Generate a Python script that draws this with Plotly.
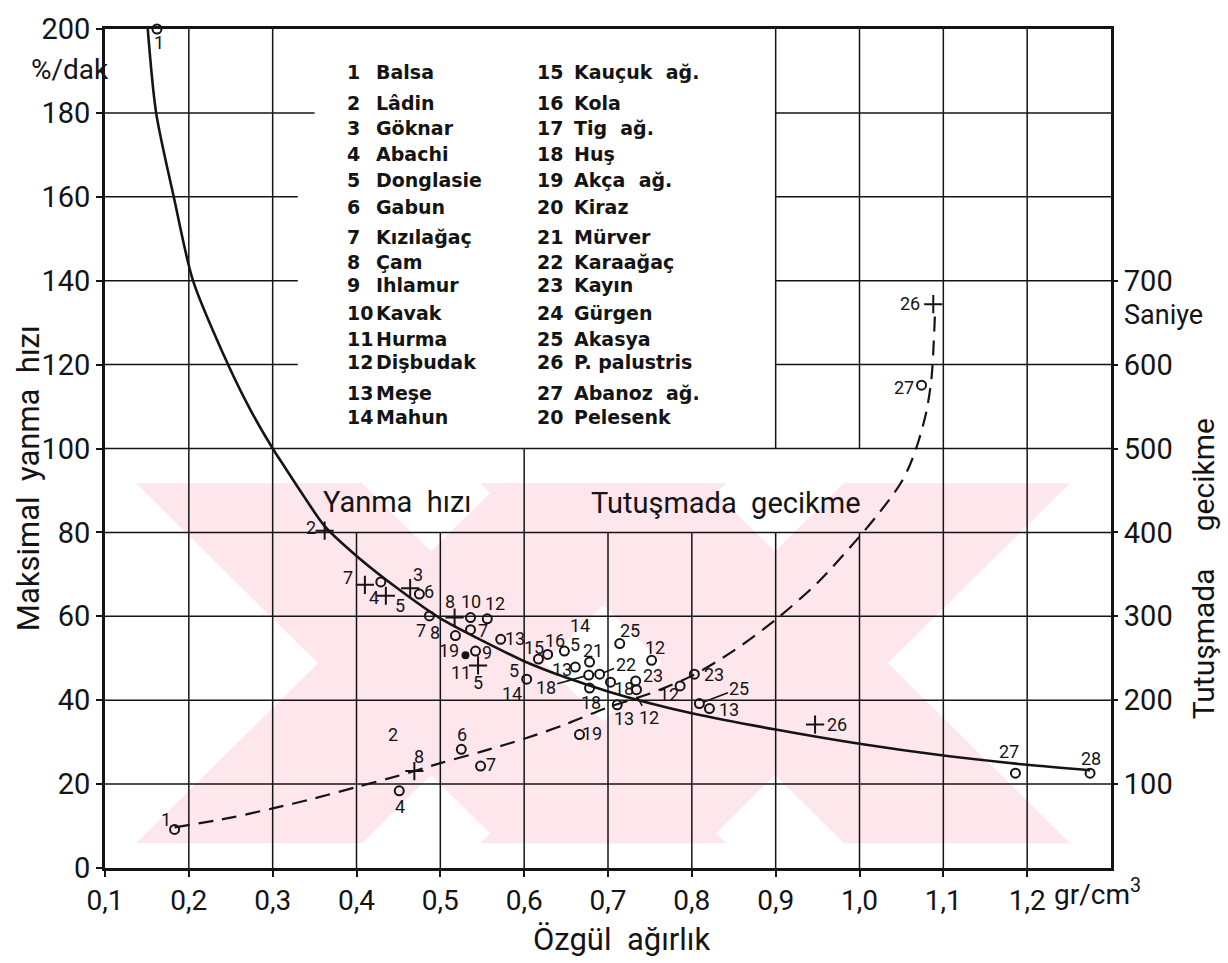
import plotly.graph_objects as go

# ---------------- data ----------------
# Maksimal yanma hızı eğrisi (%/dak) - özgül ağırlığa göre
burn_curve_x = [0.151, 0.161, 0.182, 0.205, 0.240, 0.270, 0.300, 0.313, 0.336, 0.362,
                0.40, 0.45, 0.50, 0.55, 0.60, 0.65, 0.70, 0.75, 0.80, 0.90, 1.00,
                1.10, 1.20, 1.275]
burn_curve_y = [200, 180, 160, 140, 123, 110.5, 100, 96.0, 89.0, 81.5,
                74.4, 66.5, 59.5, 54.2, 49.3, 45.4, 42.1, 39.3, 36.9, 33.0, 29.6,
                26.8, 24.6, 23.3]

# Tutuşmada gecikme eğrisi (saniye)
delay_curve_x = [0.183, 0.25, 0.30, 0.35, 0.40, 0.45, 0.50, 0.55, 0.60, 0.65, 0.70,
                 0.75, 0.80, 0.85, 0.90, 0.95, 1.00, 1.02, 1.04, 1.05, 1.06, 1.07,
                 1.08, 1.086, 1.09]
delay_curve_s = [48.5, 60, 71, 83, 96.5, 110, 125, 139, 154, 171.5, 191.5,
                 208, 229, 259, 296, 340, 395, 419, 445, 460, 480, 507.5,
                 545, 585, 660]

# Ölçülen yanma hızları: o = daire, + = artı, . = dolu nokta
burn_x = [0.162, 0.362, 0.410, 0.429, 0.435, 0.464, 0.475, 0.487, 0.517, 0.536,
          0.556, 0.536, 0.518, 0.530, 0.542, 0.545, 0.572, 0.603, 0.617, 0.628,
          0.648, 0.661, 0.678, 0.677, 0.690, 0.714, 0.752, 0.678, 0.703, 0.733,
          0.734, 0.809, 0.821, 0.947, 1.186, 1.275]
burn_y = [200, 80.4, 67.5, 68.2, 64.9, 66.7, 65.3, 60.1, 59.7, 59.7,
          59.4, 56.8, 55.4, 50.7, 51.7, 48.3, 54.5, 45.0, 49.8, 50.9,
          51.7, 47.9, 49.1, 46.0, 46.2, 53.5, 49.5, 42.9, 44.3, 44.6,
          42.5, 39.2, 38.0, 34.2, 22.6, 22.6]
burn_kind = ["o", "+", "+", "o", "+", "+", "o", "o", "+", "o",
             "o", "o", "o", ".", "o", "+", "o", "o", "o", "o",
             "o", "o", "o", "o", "o", "o", "o", "o", "o", "o",
             "o", "o", "o", "+", "o", "o"]
burn_label = ["1", "2", "7", "4", "5", "3", "6", "7", "8", "10",
              "12", "7", "8", "19", "9", "11", "13", "5", "15", "16",
              "14", "13", "21", "", "", "25", "12", "18", "18", "23",
              "", "", "13", "26", "27", "28"]

# Ölçülen tutuşma gecikmeleri (saniye)
delay_x = [0.183, 0.451, 0.469, 0.525, 0.548, 0.666, 0.711, 0.786, 0.803, 1.074, 1.088]
delay_s = [46, 92, 115.5, 141.5, 121.5, 159, 194.5, 217, 231, 575.5, 672]
delay_kind = ["o", "o", "+", "o", "o", "o", "o", "o", "o", "o", "+"]
delay_label = ["1", "4", "8", "6", "7", "19", "13", "12", "23", "27", "26"]

# Ağaç türleri listesi
species_left = [("1", "Balsa"), ("2", "Lâdin"), ("3", "Göknar"), ("4", "Abachi"),
                ("5", "Donglasie"), ("6", "Gabun"), ("7", "Kızılağaç"), ("8", "Çam"),
                ("9", "Ihlamur"), ("10", "Kavak"), ("11", "Hurma"), ("12", "Dişbudak"),
                ("13", "Meşe"), ("14", "Mahun")]
species_right = [("15", "Kauçuk  ağ."), ("16", "Kola"), ("17", "Tig  ağ."), ("18", "Huş"),
                 ("19", "Akça  ağ."), ("20", "Kiraz"), ("21", "Mürver"), ("22", "Karaağaç"),
                 ("23", "Kayın"), ("24", "Gürgen"), ("25", "Akasya"), ("26", "P. palustris"),
                 ("27", "Abanoz  ağ."), ("20", "Pelesenk")]

x_ticks = [0.1, 0.2, 0.3, 0.4, 0.5, 0.6, 0.7, 0.8, 0.9, 1.0, 1.1, 1.2]
x_tick_text = ["0,1", "0,2", "0,3", "0,4", "0,5", "0,6", "0,7", "0,8", "0,9", "1,0", "1,1", "1,2"]
y_ticks = list(range(0, 201, 20))
y2_ticks = [100, 200, 300, 400, 500, 600, 700]

# ---------------- layout helpers ----------------
W, H = 1228, 963
L, R, T, B = 105, 117, 20, 95
PW, PH = W - L - R, H - T - B
SANS = "Roboto, Lato, sans-serif"
BOLD = "DejaVu Sans, Verdana, sans-serif"
INK = "#141414"
PINK = "#fde7ed"


def paper(px, py):
    return (px - L) / PW, (H - B - py) / PH


# label offsets in pixels (dx right, dy down) for each point
burn_off = [(2, 13), (-14, -3), (-17, -7), (-7, 16), (14, 10), (8, -14), (10, -3), (-8, 15),
            (-5, -16), (0, -16), (8, -15), (12, 1), (-20, -3), (-16, -5), (11, 1), (-17, 7),
            (14, -1), (-13, -9), (-4, -12), (7, -14), (16, -26), (-13, 2), (3, -12), (0, 0),
            (0, 0), (10, -13), (3, -13), (1, 14), (13, 6), (17, -5), (0, 0), (0, 0),
            (20, 1), (22, 0), (-6, -22), (1, -15)]
delay_off = [(-9, -10), (1, 16), (5, -15), (1, -15), (10, -2), (12, -1), (7, 14), (-11, 9),
             (20, 0), (-18, 2), (-23, -1)]

fig = go.Figure()
shapes = []


# ---- watermark: two large pale "X" figures under the grid ----
def band(pts):
    p = [paper(*q) for q in pts]
    d = "M " + " L ".join(f"{a:.4f},{b:.4f}" for a, b in p) + " Z"
    shapes.append(dict(type="path", path=d, xref="paper", yref="paper",
                       fillcolor=PINK, line=dict(width=0), layer="below"))


WT, WB, HALF, HW = 479, 843, 182, 113
for c in (431, 775):
    band([(c - HALF - HW, WT), (c - HALF + HW, WT), (c + HALF + HW, WB), (c + HALF - HW, WB)])
    band([(c + HALF - HW, WT), (c + HALF + HW, WT), (c - HALF + HW, WB), (c - HALF - HW, WB)])

# ---- grid (some segments left open around the lettering) ----
GRID = dict(color=INK, width=1.5)
vsegs = {0.2: [(0, 200)], 0.3: [(0, 200)], 0.4: [(0, 80)], 0.5: [(0, 80)],
         0.6: [(0, 100)], 0.7: [(0, 80)], 0.8: [(0, 80)], 0.9: [(0, 80), (100, 200)],
         1.0: [(0, 80), (100, 200)], 1.1: [(0, 200)], 1.2: [(0, 200)]}
for xv, segs in vsegs.items():
    for a, b in segs:
        shapes.append(dict(type="line", xref="x", yref="y", x0=xv, x1=xv, y0=a, y1=b,
                           line=GRID, layer="below"))
hsegs = {20: [(0.1, 1.3)], 40: [(0.1, 1.3)], 60: [(0.1, 1.3)], 80: [(0.1, 1.3)],
         100: [(0.1, 1.3)], 120: [(0.1, 0.33), (0.9, 1.3)], 140: [(0.1, 0.33), (0.9, 1.3)],
         160: [(0.1, 0.33), (0.9, 1.3)], 180: [(0.1, 0.35), (0.9, 1.3)]}
for yv, segs in hsegs.items():
    for a, b in segs:
        shapes.append(dict(type="line", xref="x", yref="y", x0=a, x1=b, y0=yv, y1=yv,
                           line=GRID, layer="below"))

# ---- curves ----
fig.add_trace(go.Scatter(x=burn_curve_x, y=burn_curve_y, mode="lines",
                         line=dict(color=INK, width=2.6, shape="spline", smoothing=0.8),
                         cliponaxis=False, hoverinfo="skip", showlegend=False))
fig.add_trace(go.Scatter(x=delay_curve_x, y=delay_curve_s, mode="lines", yaxis="y2",
                         line=dict(color=INK, width=2.2, dash="15px,9px",
                                   shape="spline", smoothing=0.8),
                         hoverinfo="skip", showlegend=False))

SYM = {"o": ("circle-open", 9), "+": ("cross-thin-open", 13), ".": ("circle", 6)}


def add_points(xs, ys, kinds, axis):
    for k in ("o", "+", "."):
        idx = [i for i, kk in enumerate(kinds) if kk == k]
        if not idx:
            continue
        sym, size = SYM[k]
        fig.add_trace(go.Scatter(
            x=[xs[i] for i in idx], y=[ys[i] for i in idx], mode="markers", yaxis=axis,
            marker=dict(symbol=sym, size=size, color=INK, line=dict(color=INK, width=2)),
            cliponaxis=False, showlegend=False))


add_points(burn_x, burn_y, burn_kind, "y")
add_points(delay_x, delay_s, delay_kind, "y2")

ann = []
LBL = dict(family=SANS, size=18, color=INK)


def label(x, y, text, dx, dy, yref="y"):
    ann.append(dict(x=x, y=y, xref="x", yref=yref, text=text, showarrow=False,
                    xanchor="center", yanchor="middle",
                    xshift=dx, yshift=-dy, font=LBL))


for x, y, t, (dx, dy) in zip(burn_x, burn_y, burn_label, burn_off):
    if t:
        label(x, y, t, dx, dy)
for x, y, t, (dx, dy) in zip(delay_x, delay_s, delay_label, delay_off):
    label(x, y, t, dx, dy, "y2")

# free-standing numbers
for x, y, t, dy in [(0.443, 31.8, "2", 0), (0.545, 44.3, "5", 0), (0.586, 42.2, "14", 3),
                    (0.661, 53.8, "5", 2)]:
    label(x, y, t, 0, dy)

# labels joined to their point with a short stroke
for x, y, t, ax, ay in [(0.677, 46.0, "18", -43, 12), (0.690, 46.2, "22", 26, -10),
                        (0.809, 39.2, "25", 40, -15), (0.733, 41.5, "12", 13, 24)]:
    ann.append(dict(x=x, y=y, xref="x", yref="y", text=t, showarrow=True, arrowhead=0,
                    arrowwidth=1.6, arrowcolor=INK, ax=ax, ay=ay, standoff=4, font=LBL))


def free_text(px, py, t, size, family=SANS, angle=0, anchor="center"):
    xp, yp = paper(px, py)
    ann.append(dict(x=xp, y=yp, xref="paper", yref="paper", text=t, showarrow=False,
                    textangle=angle, xanchor=anchor, yanchor="middle",
                    font=dict(family=family, size=size, color=INK)))


# curve names
free_text(397, 498, "Yanma  hızı", 29)
free_text(726, 499, "Tutuşmada  gecikme", 29)

# species list
rows = [63, 95, 120, 146, 173, 200, 230, 255, 279, 307, 333, 357, 388, 412]
for col, (nx, tx) in ((species_left, (345, 374)), (species_right, (535, 572))):
    for (num, name), py in zip(col, rows):
        free_text(nx, py, "<b>" + num + "</b>", 19, BOLD, anchor="left")
        free_text(tx, py, "<b>" + name + "</b>", 19, BOLD, anchor="left")

# axis titles and units
free_text(28, 474, "Maksimal  yanma  hızı", 31, angle=-90)
free_text(1203, 566, "Tutuşmada     gecikme", 30, angle=-90)
free_text(622, 940, "Özgül  ağırlık", 31)
free_text(70, 61, "%/dak", 28)
free_text(1163, 309, "Saniye", 27)
free_text(1052, 893, "gr/cm<sup>3</sup>", 28, anchor="left")

TICKFONT = dict(family=SANS, size=29, color=INK)
fig.update_layout(
    width=W, height=H, margin=dict(l=L, r=R, t=T, b=B),
    paper_bgcolor="white", plot_bgcolor="white", showlegend=False,
    shapes=shapes, annotations=ann,
    xaxis=dict(range=[0.1, 1.3], tickvals=x_ticks, ticktext=x_tick_text, showgrid=False,
               zeroline=False, showline=True, linecolor=INK, linewidth=2.6, mirror=True,
               ticks="outside", ticklen=6, tickwidth=2, tickcolor=INK,
               tickfont=dict(family=SANS, size=28, color=INK)),
    yaxis=dict(range=[0, 200], tickvals=y_ticks, showgrid=False, zeroline=False,
               showline=True, linecolor=INK, linewidth=2.6, mirror=True,
               ticks="outside", ticklen=6, tickwidth=2, tickcolor=INK,
               tickfont=TICKFONT),
    yaxis2=dict(range=[0, 1000], overlaying="y", side="right", tickvals=y2_ticks,
                showgrid=False, zeroline=False, showline=False,
                ticks="outside", ticklen=6, tickwidth=2, tickcolor=INK,
                tickfont=TICKFONT),
)

fig.write_html("out.html")
